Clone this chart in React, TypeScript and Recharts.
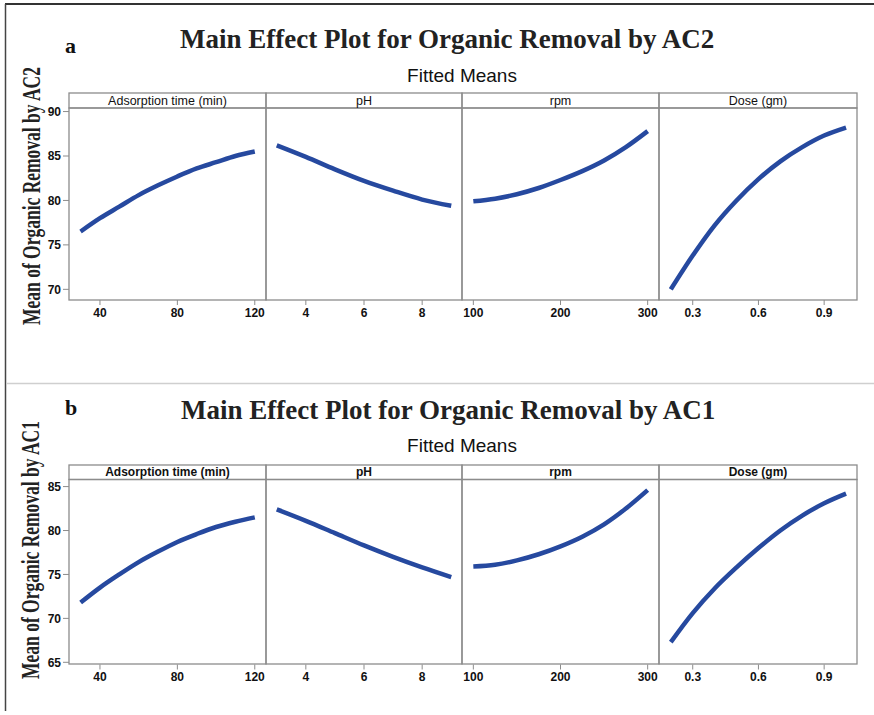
import { LineChart, Line, XAxis, YAxis } from "recharts";

// x levels for each factor
const timeX = [30, 40, 50, 60, 70, 80, 90, 100, 110, 120];
const phX = [3, 4, 5, 6, 7, 8, 9];
const rpmX = [100, 125, 150, 175, 200, 225, 250, 275, 300];
const doseX = [0.2, 0.3, 0.4, 0.5, 0.6, 0.7, 0.8, 0.9, 1.0];

// fitted means, AC2 (panel a)
const ac2Time = [76.5, 78.0, 79.3, 80.6, 81.7, 82.7, 83.6, 84.3, 85.0, 85.5];
const ac2Ph = [86.2, 84.9, 83.5, 82.2, 81.1, 80.1, 79.4];
const ac2Rpm = [79.9, 80.2, 80.7, 81.4, 82.3, 83.3, 84.5, 86.0, 87.8];
const ac2Dose = [70.0, 73.8, 77.2, 80.0, 82.4, 84.4, 86.0, 87.3, 88.2];

// fitted means, AC1 (panel b)
const ac1Time = [71.8, 73.5, 75.0, 76.4, 77.6, 78.7, 79.6, 80.4, 81.0, 81.5];
const ac1Ph = [82.4, 81.1, 79.7, 78.3, 77.0, 75.8, 74.7];
const ac1Rpm = [75.9, 76.1, 76.6, 77.3, 78.2, 79.3, 80.7, 82.5, 84.6];
const ac1Dose = [67.3, 70.6, 73.4, 75.8, 78.0, 80.0, 81.7, 83.1, 84.2];

// axis ticks
const timeTicks = [40, 80, 120];
const phTicks = [4, 6, 8];
const rpmTicks = [100, 200, 300];
const doseTicks = [0.3, 0.6, 0.9];
const ac2YTicks = [70, 75, 80, 85, 90];
const ac1YTicks = [65, 70, 75, 80, 85];

const factorNames = ["Adsorption time (min)", "pH", "rpm", "Dose (gm)"];

const BLUE = "#26499f";
const FRAME = "#8c8c8c";
const TICK_FONT = { fontSize: 12, fontWeight: 700, fill: "#111", fontFamily: "Liberation Sans, Arial, sans-serif" };

const cols = [
  [69, 266],
  [266, 462],
  [462, 659],
  [659, 857],
];

type Sub = { xs: number[]; ys: number[]; domain: [number, number]; ticks: number[]; fmt?: (v: number) => string };

function Panel({
  top, plotTop, plotBottom, subs, yDomain, yTicks, boldStrip,
}: {
  top: number; plotTop: number; plotBottom: number; subs: Sub[];
  yDomain: [number, number]; yTicks: number[]; boldStrip: boolean;
}) {
  const plotH = plotBottom - plotTop;
  const axisH = 30;
  const pad = 10; // room above plot so the top y label is not clipped
  return (
    <>
      <svg width={874} height={715} style={{ position: "absolute", left: 0, top: 0 }}>
        {cols.map(([x0, x1], i) => (
          <g key={i}>
            <rect x={x0} y={top} width={x1 - x0} height={plotTop - top} fill="none" stroke={FRAME} strokeWidth={1.3} />
            <rect x={x0} y={plotTop} width={x1 - x0} height={plotH} fill="none" stroke={FRAME} strokeWidth={1.3} />
            <text
              x={(x0 + x1) / 2}
              y={plotTop - 3.5}
              textAnchor="middle"
              fontFamily="Liberation Sans, Arial, sans-serif"
              fontSize={boldStrip ? 12 : 12.5}
              fontWeight={boldStrip ? 700 : 400}
              fill="#111"
            >
              {factorNames[i]}
            </text>
          </g>
        ))}
      </svg>
      {subs.map((s, i) => {
        const [x0, x1] = cols[i];
        const yw = i === 0 ? 40 : 0;
        const data = s.xs.map((x, k) => ({ x, y: s.ys[k] }));
        return (
          <div key={i} style={{ position: "absolute", left: x0 - yw, top: plotTop - pad }}>
            <LineChart width={x1 - x0 + yw} height={plotH + axisH + pad} data={data} margin={{ top: pad, right: 0, bottom: 0, left: 0 }}>
              <XAxis
                dataKey="x"
                type="number"
                domain={s.domain}
                ticks={s.ticks}
                allowDataOverflow
                axisLine={false}
                tickLine={{ stroke: FRAME }}
                tickSize={5}
                tickMargin={3}
                height={axisH}
                tick={TICK_FONT}
                tickFormatter={s.fmt}
                interval={0}
              />
              <YAxis
                type="number"
                domain={yDomain}
                ticks={yTicks}
                allowDataOverflow
                hide={i !== 0}
                width={40}
                axisLine={false}
                tickLine={{ stroke: FRAME }}
                tickSize={6}
                tickMargin={2}
                tick={TICK_FONT}
                interval={0}
              />
              <Line
                type="monotone"
                dataKey="y"
                stroke={BLUE}
                strokeWidth={4.5}
                dot={false}
                isAnimationActive={false}
              />
            </LineChart>
          </div>
        );
      })}
    </>
  );
}

const doseFmt = (v: number) => v.toFixed(1);

export default function App() {
  const serif = "Liberation Serif, Times New Roman, serif";
  const sans = "Liberation Sans, Arial, sans-serif";
  return (
    <div style={{ position: "absolute", left: 0, top: 0, width: 874, height: 715, background: "#fff", overflow: "hidden" }}>
      <svg width={874} height={715} style={{ position: "absolute", left: 0, top: 0 }}>
        <line x1={5} y1={4} x2={874} y2={4} stroke="#333" strokeWidth={2} />
        <line x1={5.5} y1={4} x2={5.5} y2={711} stroke="#444" strokeWidth={1.5} />
        <line x1={6} y1={383.5} x2={874} y2={383.5} stroke="#cfcfcf" strokeWidth={1.5} />

        <text x={65} y={53} fontFamily={serif} fontWeight={700} fontSize={22} fill="#111">a</text>
        <text x={180} y={48} fontFamily={serif} fontWeight={700} fontSize={27} fill="#222">
          Main Effect Plot for Organic Removal by AC2
        </text>
        <text x={462} y={82} textAnchor="middle" fontFamily={sans} fontSize={19} fill="#111">Fitted Means</text>
        <text
          transform="translate(39.5,196) rotate(-90) scale(1,1.4)"
          textAnchor="middle"
          fontFamily={serif}
          fontWeight={700}
          fontSize={17.5}
          fill="#222"
        >
          Mean of Organic Removal by AC2
        </text>

        <text x={65} y={415} fontFamily={serif} fontWeight={700} fontSize={22} fill="#111">b</text>
        <text x={181} y={419} fontFamily={serif} fontWeight={700} fontSize={27} fill="#222">
          Main Effect Plot for Organic Removal by AC1
        </text>
        <text x={462} y={452} textAnchor="middle" fontFamily={sans} fontSize={19} fill="#111">Fitted Means</text>
        <text
          transform="translate(38.5,550) rotate(-90) scale(1,1.4)"
          textAnchor="middle"
          fontFamily={serif}
          fontWeight={700}
          fontSize={17.5}
          fill="#222"
        >
          Mean of Organic Removal by AC1
        </text>
      </svg>

      <Panel
        top={93}
        plotTop={108}
        plotBottom={300}
        yDomain={[68.8, 90.4]}
        yTicks={ac2YTicks}
        boldStrip={false}
        subs={[
          { xs: timeX, ys: ac2Time, domain: [24, 125.8], ticks: timeTicks },
          { xs: phX, ys: ac2Ph, domain: [2.63, 9.37], ticks: phTicks },
          { xs: rpmX, ys: ac2Rpm, domain: [87, 313], ticks: rpmTicks },
          { xs: doseX, ys: ac2Dose, domain: [0.146, 1.05], ticks: doseTicks, fmt: doseFmt },
        ]}
      />
      <Panel
        top={465}
        plotTop={479.5}
        plotBottom={664}
        yDomain={[64.75, 85.75]}
        yTicks={ac1YTicks}
        boldStrip={true}
        subs={[
          { xs: timeX, ys: ac1Time, domain: [24, 125.8], ticks: timeTicks },
          { xs: phX, ys: ac1Ph, domain: [2.63, 9.37], ticks: phTicks },
          { xs: rpmX, ys: ac1Rpm, domain: [87, 313], ticks: rpmTicks },
          { xs: doseX, ys: ac1Dose, domain: [0.146, 1.05], ticks: doseTicks, fmt: doseFmt },
        ]}
      />
    </div>
  );
}
